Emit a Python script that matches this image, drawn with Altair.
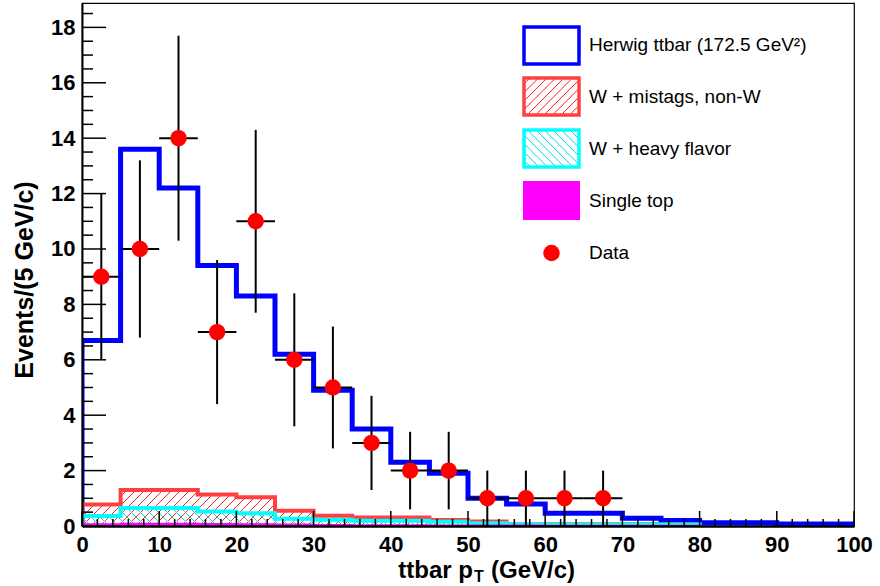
import altair as alt
import pandas as pd

# ---------------- data ----------------
bin_edges = list(range(0, 105, 5))
herwig = [6.7, 13.6, 12.2, 9.4, 8.3, 6.2, 4.9, 3.5, 2.3, 1.9,
          1.0, 0.79, 0.46, 0.46, 0.28, 0.2, 0.12, 0.12, 0.07, 0.07]
mistags = [0.78, 1.3, 1.3, 1.14, 1.04, 0.55, 0.37, 0.31, 0.31, 0.22,
           0.16, 0.06, 0.06, 0.06, 0.06, 0.06, 0, 0, 0, 0]
heavy = [0.36, 0.65, 0.65, 0.52, 0.46, 0.26, 0.23, 0.19, 0.19, 0.15,
         0.1, 0.05, 0.05, 0.05, 0.05, 0.05, 0, 0, 0, 0]
single = [0.06, 0.08, 0.08, 0.07, 0.06, 0.05, 0.04, 0.03, 0.03, 0.02,
          0.02, 0.02, 0.01, 0.01, 0.01, 0.01, 0, 0, 0, 0]
data_x = [2.5, 7.5, 12.5, 17.5, 22.5, 27.5, 32.5, 37.5, 42.5, 47.5, 52.5, 57.5, 62.5, 67.5]
data_y = [9, 10, 14, 7, 11, 6, 5, 3, 2, 2, 1, 1, 1, 1]
data_err = [3.0, 3.2, 3.7, 2.6, 3.3, 2.4, 2.2, 1.7, 1.4, 1.4, 1.0, 1.0, 1.0, 1.0]
x_labels = [0, 10, 20, 30, 40, 50, 60, 70, 80, 90, 100]
y_labels = [0, 2, 4, 6, 8, 10, 12, 14, 16, 18]
legend_labels = ["Herwig ttbar (172.5 GeV\u00b2)", "W + mistags, non-W",
                 "W + heavy flavor", "Single top", "Data"]

# ---------------- layout ----------------
W, H = 772, 523
XMAX, YMAX = 100.0, 18.88
SX, SY = W / XMAX, H / YMAX
FONT = "Liberation Sans"

xs = alt.Scale(domain=[0, XMAX], nice=False, zero=False)
ys = alt.Scale(domain=[0, YMAX], nice=False, zero=False)
xaxis = alt.Axis(values=x_labels, ticks=False, tickSize=0, grid=False, domainColor="black",
                 domainWidth=2.5, labelFont=FONT, labelFontSize=22, labelFontWeight="bold",
                 labelColor="black", labelPadding=8, labelFlush=False, title=None, zindex=1)
yaxis = alt.Axis(values=y_labels, ticks=False, tickSize=0, grid=False, domainColor="black",
                 domainWidth=2, labelFont=FONT, labelFontSize=22, labelFontWeight="bold",
                 labelColor="black", labelPadding=7, title=None, zindex=1)


def X(f):
    return alt.X(f, type="quantitative", scale=xs, axis=xaxis)


def Y(f):
    return alt.Y(f, type="quantitative", scale=ys, axis=yaxis)


def step_df(vals):
    n = max(i for i, v in enumerate(vals) if v > 0)
    rows = [(0.0, 0.0)]
    for i in range(n + 1):
        rows.append((bin_edges[i], vals[i]))
    rows.append((bin_edges[n + 1], vals[n]))
    rows.append((bin_edges[n + 1], 0.0))
    return pd.DataFrame({"x": [r[0] for r in rows], "y": [r[1] for r in rows],
                         "o": list(range(len(rows)))})


def hatch(rects, direction, sp=9.0):
    """rects in pixel coords (y up); returns segments in data coords."""
    segs = []
    for X0, X1, Y0, Y1 in rects:
        if Y1 - Y0 <= 0:
            continue
        if direction == "/":
            for k in range(int(-W / sp) - 2, int(H / sp) + 2):
                c = k * sp
                xa, xb = max(X0, Y0 - c), min(X1, Y1 - c)
                if xb - xa > 0.3:
                    segs.append((xa, xa + c, xb, xb + c))
        else:
            for k in range(0, int((W + H) / sp) + 2):
                c = k * sp
                xa, xb = max(X0, c - Y1), min(X1, c - Y0)
                if xb - xa > 0.3:
                    segs.append((xa, c - xa, xb, c - xb))
    return pd.DataFrame({"x1": [s[0] / SX for s in segs], "y1": [s[1] / SY for s in segs],
                         "x2": [s[2] / SX for s in segs], "y2": [s[3] / SY for s in segs]})


def hist_rects(vals):
    return [(bin_edges[i] * SX, bin_edges[i + 1] * SX, 0.0, v * SY) for i, v in enumerate(vals)]


def hatch_layer(df, color):
    return alt.Chart(df).mark_rule(color=color, strokeWidth=1, clip=True).encode(
        x=X("x1"), x2="x2", y=Y("y1"), y2="y2")


def line_layer(vals, color, width):
    return alt.Chart(step_df(vals)).mark_line(
        interpolate="step-after", color=color, strokeWidth=width, clip=True).encode(
        x=X("x"), y=Y("y"), order="o:Q")


layers = []
layers.append(line_layer(herwig, "#0000ff", 5))
layers.append(hatch_layer(hatch(hist_rects(mistags), "/"), "#ff2020"))
layers.append(line_layer(mistags, "#ff4040", 4))
layers.append(hatch_layer(hatch(hist_rects(heavy), "\\"), "#00dddd"))
layers.append(line_layer(heavy, "#00ffff", 4))
layers.append(alt.Chart(step_df(single)).mark_area(
    interpolate="step-after", color="#ff00ff", clip=True).encode(x=X("x"), y=Y("y"), order="o:Q"))
layers.append(line_layer(single, "#ff00ff", 2))

# data points with error bars
pts = pd.DataFrame({"x": data_x, "y": data_y, "err": data_err})
pts["lo"] = (pts["y"] - pts["err"]).clip(lower=0)
pts["hi"] = pts["y"] + pts["err"]
pts["xl"] = pts["x"] - 2.5
pts["xh"] = pts["x"] + 2.5
layers.append(alt.Chart(pts).mark_rule(color="black", strokeWidth=2).encode(
    x=X("x"), y=Y("lo"), y2="hi"))
layers.append(alt.Chart(pts).mark_rule(color="black", strokeWidth=2).encode(
    x=X("xl"), x2="xh", y=Y("y")))
layers.append(alt.Chart(pts).mark_circle(color="#ff0000", size=270, opacity=1).encode(
    x=X("x"), y=Y("y")))

# inward ticks (ROOT style)
x_major = pd.DataFrame({"v": x_labels})
x_minor = pd.DataFrame({"v": [v for v in range(0, 101, 2) if v % 10 != 0]})
y_major = pd.DataFrame({"v": y_labels})
y_minor = pd.DataFrame({"v": [v / 2 for v in range(0, 38) if v % 4 != 0]})
layers.append(alt.Chart(x_major).mark_rule(color="black", strokeWidth=1.5).encode(
    x=X("v"), y=alt.value(H), y2=alt.value(H - 15)))
layers.append(alt.Chart(x_minor).mark_rule(color="black", strokeWidth=1.5).encode(
    x=X("v"), y=alt.value(H), y2=alt.value(H - 7)))
layers.append(alt.Chart(y_major).mark_rule(color="black", strokeWidth=1.5).encode(
    y=Y("v"), x=alt.value(0), x2=alt.value(24)))
layers.append(alt.Chart(y_minor).mark_rule(color="black", strokeWidth=1.5).encode(
    y=Y("v"), x=alt.value(0), x2=alt.value(11)))

# ---------------- legend ----------------
BX0, BX1 = 442, 497
box_tops = [24, 75, 127, 179]
BH = 37
text_y = [42, 94, 146, 198, 250]


def box_df(top):
    return pd.DataFrame({"x": [BX0 / SX], "x2": [BX1 / SX],
                         "y": [(H - top) / SY], "y2": [(H - top - BH) / SY]})


def box_rect(top):
    return (BX0, BX1, H - top - BH, H - top)


layers.append(alt.Chart(box_df(box_tops[0])).mark_rect(
    fill="white", stroke="#0000ff", strokeWidth=3.5).encode(x=X("x"), x2="x2", y=Y("y"), y2="y2"))
layers.append(hatch_layer(hatch([box_rect(box_tops[1])], "/", sp=8.5), "#ff2020"))
layers.append(alt.Chart(box_df(box_tops[1])).mark_rect(
    fill=None, stroke="#ff4040", strokeWidth=3.5).encode(x=X("x"), x2="x2", y=Y("y"), y2="y2"))
layers.append(hatch_layer(hatch([box_rect(box_tops[2])], "\\", sp=8.5), "#00dddd"))
layers.append(alt.Chart(box_df(box_tops[2])).mark_rect(
    fill=None, stroke="#00ffff", strokeWidth=3.5).encode(x=X("x"), x2="x2", y=Y("y"), y2="y2"))
layers.append(alt.Chart(box_df(box_tops[3])).mark_rect(
    fill="#ff00ff", stroke="#ff00ff", strokeWidth=2).encode(x=X("x"), x2="x2", y=Y("y"), y2="y2"))
layers.append(alt.Chart(pd.DataFrame({"x": [(BX0 + BX1) / 2 / SX],
                                      "y": [(H - text_y[4]) / SY]})).mark_circle(
    color="#ff0000", size=270, opacity=1).encode(x=X("x"), y=Y("y")))
for lab, ty in zip(legend_labels, text_y):
    layers.append(alt.Chart(pd.DataFrame({"t": [lab]})).mark_text(
        align="left", baseline="middle", font=FONT, fontSize=19, color="black").encode(
        text="t:N", x=alt.value(507), y=alt.value(ty)))

# ---------------- axis titles ----------------
TF = 24
layers.append(alt.Chart(pd.DataFrame({"t": ["ttbar p"]})).mark_text(
    align="right", baseline="alphabetic", font=FONT, fontSize=TF, fontWeight="bold",
    color="black").encode(text="t:N", x=alt.value(391), y=alt.value(575)))
layers.append(alt.Chart(pd.DataFrame({"t": ["T"]})).mark_text(
    align="left", baseline="alphabetic", font=FONT, fontSize=16, fontWeight="bold",
    color="black").encode(text="t:N", x=alt.value(392), y=alt.value(579)))
layers.append(alt.Chart(pd.DataFrame({"t": ["(GeV/c)"]})).mark_text(
    align="left", baseline="alphabetic", font=FONT, fontSize=TF, fontWeight="bold",
    color="black").encode(text="t:N", x=alt.value(409), y=alt.value(575)))
layers.append(alt.Chart(pd.DataFrame({"t": ["Events/(5 GeV/c)"]})).mark_text(
    align="center", baseline="middle", font=FONT, fontSize=TF + 1, fontWeight="bold",
    angle=270, color="black").encode(text="t:N", x=alt.value(-57), y=alt.value(277)))

chart = alt.layer(*layers).properties(
    width=W, height=H,
    padding={"left": 82, "top": 3, "right": 26, "bottom": 60},
    autosize=alt.AutoSizeParams(type="none"),
    background="white",
).configure_view(stroke="black", strokeWidth=1.2)

chart.save("out.html", embed_options={"renderer": "svg", "actions": False})
